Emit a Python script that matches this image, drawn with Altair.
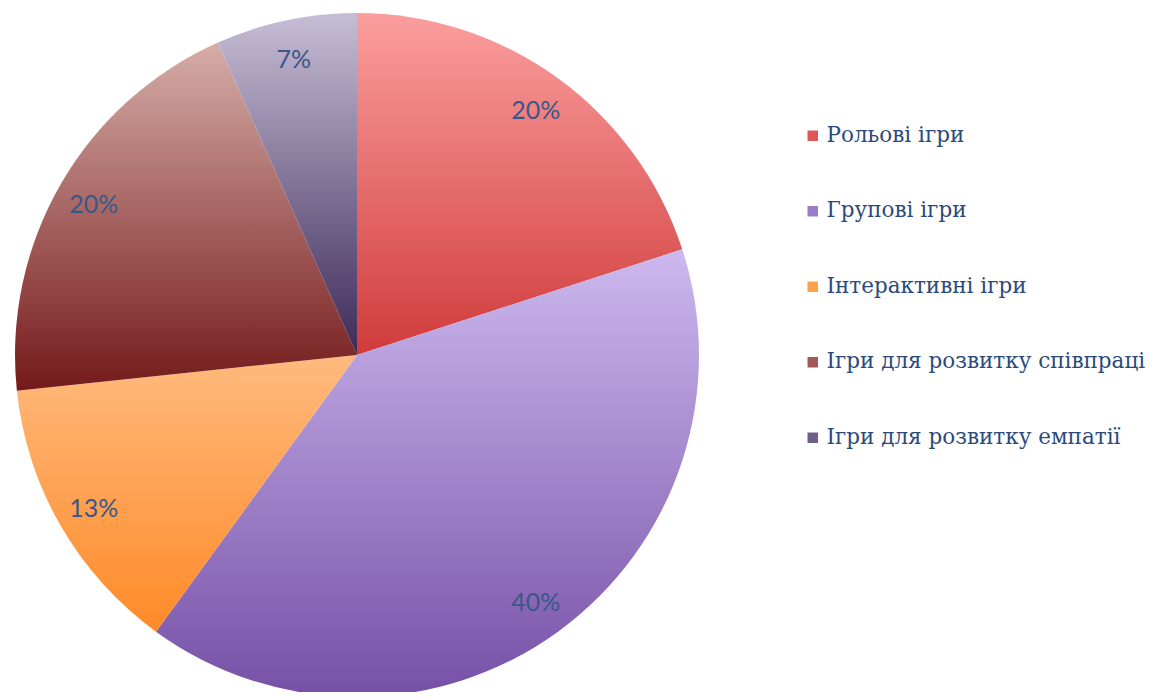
import altair as alt
import pandas as pd

categories = ["Рольові ігри", "Групові ігри", "Інтерактивні ігри",
              "Ігри для розвитку співпраці", "Ігри для розвитку емпатії"]
counts = [3, 6, 2, 3, 1]
pct_labels = ["20%", "40%", "13%", "20%", "7%"]
top_colors = ["#FB9E9E", "#CDB9EF", "#FFBA7E", "#D6ADA8", "#C6BDD5"]
bottom_colors = ["#D03B3B", "#7650A6", "#FF8A28", "#741A1A", "#3C2A58"]
legend_colors = ["#E05555", "#9B7CC9", "#FFA04A", "#A25A58", "#6E6088"]

total = sum(counts)
df = pd.DataFrame({"cat": categories, "n": counts, "lbl": pct_labels,
                   "idx": list(range(len(categories)))})

CX, CY, R = 349, 347, 342

base = alt.Chart(df).transform_window(
    end="sum(n)", sort=[alt.SortField("idx")], frame=[None, 0]
).transform_calculate(
    start="datum.end - datum.n", mid="datum.end - datum.n / 2"
)

theta_scale = alt.Scale(domain=[0, total], range=[0, 6.283185307179586])

layers = []
for i in range(len(categories)):
    grad = alt.Gradient(
        gradient="linear",
        stops=[alt.GradientStop(color=top_colors[i], offset=0),
               alt.GradientStop(color=bottom_colors[i], offset=1)],
        x1=0, x2=0, y1=0, y2=1,
    )
    layers.append(
        base.transform_filter(alt.datum.idx == i)
        .mark_arc(fill=grad, outerRadius=R, strokeWidth=0)
        .encode(
            theta=alt.Theta("start:Q", scale=theta_scale),
            theta2="end:Q",
            x=alt.value(CX), y=alt.value(CY),
        )
    )

text = base.mark_text(font="Lato", fontSize=25, color="#3B5787",
                      align="center", baseline="middle", dy=2).encode(
    theta=alt.Theta("mid:Q", scale=theta_scale),
    radius=alt.value(304),
    x=alt.value(CX), y=alt.value(CY),
    text="lbl:N",
)

legend_layer = alt.Chart(df).mark_square(opacity=0, size=110).encode(
    x=alt.value(0), y=alt.value(0),
    color=alt.Color("cat:N",
                    scale=alt.Scale(domain=categories, range=legend_colors),
                    sort=categories,
                    legend=alt.Legend(
                        title=None, orient="none", legendX=794, legendY=117,
                        symbolType="square", symbolSize=110, symbolOpacity=1,
                        symbolStrokeWidth=0, labelFont="DejaVu Serif",
                        labelFontSize=21.5, labelColor="#2B4A7C",
                        labelOffset=3, rowPadding=52.5, padding=0,
                        labelLimit=400,
                    )),
)

chart = alt.layer(*layers, text, legend_layer).properties(
    width=1145, height=684,
    autosize=alt.AutoSizeParams(type="none"), padding=0,
).configure_view(stroke=None)

chart.save("out.html", embed_options={"renderer": "svg", "actions": False})
